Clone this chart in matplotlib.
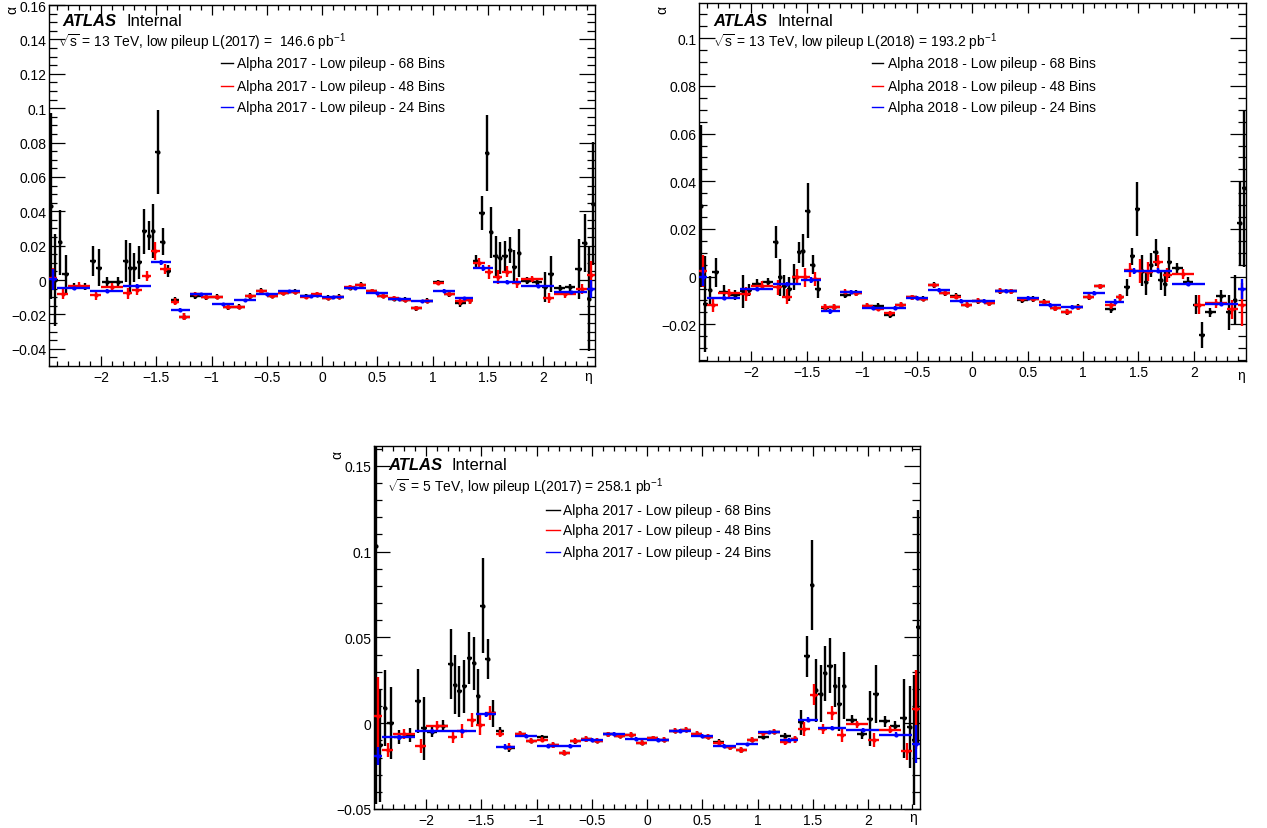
import numpy as np
import matplotlib
matplotlib.use("Agg")
import matplotlib.pyplot as plt
from matplotlib.ticker import MultipleLocator, FuncFormatter

plt.rcParams['font.family'] = ['Liberation Sans', 'DejaVu Sans']
plt.rcParams['mathtext.fontset'] = 'custom'
plt.rcParams['mathtext.rm'] = 'Liberation Sans'
plt.rcParams['mathtext.it'] = 'Liberation Sans:italic'
plt.rcParams['mathtext.bf'] = 'Liberation Sans:bold'

# ---------------- binning (eta bin edges) ----------------
edges_68 = [-2.47, -2.435, -2.395, -2.355, -2.29, -2.2, -2.1, -2.045, -1.99, -1.9, -1.8, -1.76, -1.72,
            -1.68, -1.63, -1.59, -1.55, -1.51, -1.47, -1.42, -1.37, -1.3, -1.2, -1.1, -1.0, -0.9, -0.8,
            -0.7, -0.6, -0.5, -0.4, -0.3, -0.2, -0.1, 0.0, 0.1, 0.2, 0.3, 0.4, 0.5, 0.6, 0.7, 0.8, 0.9,
            1.0, 1.1, 1.2, 1.3, 1.37, 1.42, 1.47, 1.51, 1.55, 1.59, 1.63, 1.68, 1.72, 1.76, 1.8, 1.9,
            1.99, 2.045, 2.1, 2.2, 2.29, 2.355, 2.395, 2.435, 2.47]
edges_48 = [-2.47, -2.4, -2.3, -2.1, -2.0, -1.8, -1.72, -1.63, -1.55, -1.47, -1.37, -1.3, -1.2, -1.1,
            -1.0, -0.9, -0.8, -0.7, -0.6, -0.5, -0.4, -0.3, -0.2, -0.1, 0.0, 0.1, 0.2, 0.3, 0.4, 0.5,
            0.6, 0.7, 0.8, 0.9, 1.0, 1.1, 1.2, 1.3, 1.37, 1.47, 1.55, 1.63, 1.72, 1.8, 2.0, 2.1, 2.3,
            2.4, 2.47]
edges_24 = [-2.47, -2.4, -2.1, -1.8, -1.55, -1.37, -1.2, -1.0, -0.8, -0.6, -0.4, -0.2, 0.0, 0.2, 0.4,
            0.6, 0.8, 1.0, 1.2, 1.37, 1.55, 1.8, 2.1, 2.4, 2.47]

# ---------------- panel A : 13 TeV, 2017 ----------------
a_68 = [0.043, 0.000, 0.0219, 0.0035, -0.0039, -0.0039, 0.0113, 0.0072, -0.0014, -0.0010,
        0.0111, 0.0072, 0.0072, 0.0103, 0.0285, 0.0258, 0.0285, 0.0744, 0.0223, 0.0054,
        -0.0117, -0.0214,
        -0.0093, -0.0099, -0.0097, -0.0157, -0.0155, -0.0093, -0.0062, -0.0091, -0.0074, -0.0068, -0.0095, -0.0085,
        -0.0103, -0.0097, -0.0045, -0.0027, -0.0066, -0.0091, -0.0109, -0.0115, -0.0165, -0.0120, -0.0014, -0.0082,
        -0.0134, -0.0117,
        0.0109, 0.039, 0.0738, 0.0278, 0.0142, 0.0128, 0.0142, 0.0177, 0.0078, 0.0157,
        -0.0004, -0.0014, -0.0043, 0.0035, -0.0049, -0.0043, 0.0064, 0.0216, -0.011, 0.0445]
a_68_err = [0.054, 0.0265, 0.019, 0.011, 0.002, 0.002, 0.0087, 0.0107, 0.003, 0.003,
            0.0123, 0.0146, 0.0085, 0.0097, 0.0131, 0.0085, 0.0155, 0.0245, 0.0078, 0.0034,
            0.002, 0.002,
            0.0015, 0.0015, 0.0015, 0.0015, 0.0015, 0.0015, 0.0015, 0.0015, 0.0015, 0.0015, 0.0015, 0.0015,
            0.0015, 0.0015, 0.0015, 0.0015, 0.0015, 0.0015, 0.0015, 0.0015, 0.0015, 0.0015, 0.0015, 0.0015,
            0.002, 0.002,
            0.0035, 0.0097, 0.022, 0.0148, 0.0117, 0.0092, 0.0087, 0.0075, 0.0097, 0.014,
            0.002, 0.002, 0.0087, 0.0107, 0.002, 0.002, 0.0175, 0.017, 0.030, 0.036]
a_48 = [0.001, -0.0082, -0.0033, -0.0087, -0.0039, -0.0078, -0.0058, 0.0025, 0.0169, 0.0064,
        -0.0126, -0.0214,
        -0.0083, -0.0101, -0.0097, -0.0159, -0.0155, -0.0091, -0.0062, -0.0093, -0.0074, -0.0068, -0.0097, -0.0083,
        -0.0105, -0.0097, -0.0043, -0.0027, -0.0066, -0.0091, -0.0107, -0.0115, -0.0165, -0.0120, -0.0019, -0.0082,
        -0.0124, -0.0117,
        0.0099, 0.0045, 0.0019, 0.0049, -0.0019, 0.0006, -0.0105, -0.0082, -0.0052, 0.0031]
a_48_err = [0.006, 0.003, 0.002, 0.003, 0.002, 0.003, 0.003, 0.003, 0.005, 0.003,
            0.002, 0.002,
            0.0012, 0.0012, 0.0012, 0.0012, 0.0012, 0.0012, 0.0012, 0.0012, 0.0012, 0.0012, 0.0012, 0.0012,
            0.0012, 0.0012, 0.0012, 0.0012, 0.0012, 0.0012, 0.0012, 0.0012, 0.0012, 0.0012, 0.0012, 0.0012,
            0.002, 0.002,
            0.003, 0.004, 0.004, 0.003, 0.003, 0.002, 0.003, 0.002, 0.003, 0.008]
a_24 = [0.0004, -0.0049, -0.0062, -0.0033, 0.0103, -0.0175, -0.0083, -0.0142, -0.0117, -0.0082, -0.0064, -0.0093,
        -0.0101, -0.0049, -0.0076, -0.0111, -0.0124, -0.0062, -0.0107, 0.0070, -0.0010, -0.0033, -0.0072, -0.0052]
a_24_err = [0.006, 0.001, 0.001, 0.001, 0.0015, 0.001, 0.0008, 0.0008, 0.0008, 0.0008, 0.0008, 0.0008,
            0.0008, 0.0008, 0.0008, 0.0008, 0.0008, 0.0008, 0.001, 0.0015, 0.001, 0.001, 0.001, 0.005]

# ---------------- panel B : 13 TeV, 2018 ----------------
b_68 = [0.0295, -0.0115, -0.0056, 0.0018, -0.0066, -0.0078, -0.0062, -0.0056, -0.0031, -0.0024,
        0.0144, -0.0003, -0.0041, -0.0052, 0.0, 0.0102, 0.0109, 0.0277, 0.0049, -0.0052,
        -0.0131, -0.0129,
        -0.0078, -0.0068, -0.0124, -0.0124, -0.0160, -0.0117, -0.0087, -0.0092, -0.0035, -0.0069, -0.0082, -0.0117,
        -0.0101, -0.0110, -0.0059, -0.0062, -0.0097, -0.0094, -0.0106, -0.0133, -0.0147, -0.0127, -0.0084, -0.0041,
        -0.0137, -0.0087,
        -0.0045, 0.0085, 0.0284, 0.0025, -0.0024, 0.0049, 0.0102, -0.0014, -0.0031, 0.006,
        0.0036, -0.0021, -0.0117, -0.0245, -0.015, -0.008, -0.015, -0.0098, 0.0225, 0.037]
b_68_err = [0.034, 0.020, 0.006, 0.006, 0.003, 0.002, 0.007, 0.0027, 0.002, 0.002,
            0.0067, 0.0077, 0.0047, 0.0052, 0.0055, 0.0045, 0.0068, 0.0114, 0.004, 0.0038,
            0.0015, 0.0015,
            0.0012, 0.0012, 0.0012, 0.0012, 0.0012, 0.0012, 0.0012, 0.0012, 0.0012, 0.0012, 0.0012, 0.0012,
            0.0012, 0.0012, 0.0012, 0.0012, 0.0012, 0.0012, 0.0012, 0.0012, 0.0012, 0.0012, 0.0012, 0.0012,
            0.0015, 0.0015,
            0.0035, 0.0035, 0.0113, 0.0064, 0.0052, 0.0052, 0.0056, 0.0042, 0.0052, 0.0064,
            0.002, 0.002, 0.0038, 0.0056, 0.002, 0.0025, 0.0073, 0.0105, 0.0175, 0.033]
b_48 = [0.0025, -0.0117, -0.007, -0.0073, -0.0038, -0.0045, -0.0084, 0.0, -0.0003, -0.001,
        -0.0129, -0.0129,
        -0.0063, -0.007, -0.0122, -0.0136, -0.0154, -0.0117, -0.0087, -0.0094, -0.0035, -0.0069, -0.0084, -0.0117,
        -0.0101, -0.0112, -0.0059, -0.0062, -0.0094, -0.0094, -0.0108, -0.0133, -0.0147, -0.0129, -0.0084, -0.0041,
        -0.0119, -0.0087,
        0.0028, 0.0025, 0.0021, 0.006, 0.0007, 0.0011, -0.0117, -0.0112, -0.0136, -0.0117]
b_48_err = [0.0067, 0.003, 0.002, 0.003, 0.002, 0.003, 0.003, 0.003, 0.004, 0.003,
            0.0015, 0.0015,
            0.001, 0.001, 0.001, 0.001, 0.001, 0.001, 0.001, 0.001, 0.001, 0.001, 0.001, 0.001,
            0.001, 0.001, 0.001, 0.001, 0.001, 0.001, 0.001, 0.001, 0.001, 0.001, 0.001, 0.001,
            0.0015, 0.0015,
            0.003, 0.005, 0.004, 0.003, 0.003, 0.002, 0.004, 0.002, 0.004, 0.009]
b_24 = [0.0, -0.009, -0.0052, -0.0031, -0.0014, -0.0145, -0.0063, -0.0133, -0.0131, -0.0091, -0.0056, -0.0101,
        -0.0103, -0.0059, -0.0091, -0.0117, -0.0129, -0.0069, -0.0105, 0.0025, 0.0025, -0.0031, -0.0115, -0.0052]
b_24_err = [0.004, 0.001, 0.001, 0.001, 0.0012, 0.001, 0.0008, 0.0008, 0.0008, 0.0008, 0.0008, 0.0008,
            0.0008, 0.0008, 0.0008, 0.0008, 0.0008, 0.0008, 0.001, 0.0012, 0.001, 0.001, 0.001, 0.004]

# ---------------- panel C : 5 TeV, 2017 ----------------
c_68 = [0.103, -0.013, 0.0088, 0.0, -0.0082, -0.0068, 0.0127, -0.0029, -0.0053, -0.0014,
        0.0345, 0.0224, 0.0185, 0.0214, 0.038, 0.035, 0.0156, 0.0685, 0.0374, 0.0058,
        -0.0043, -0.0146,
        -0.0062, -0.0101, -0.0082, -0.0127, -0.0171, -0.0105, -0.0092, -0.0101, -0.0064, -0.0074, -0.0068, -0.0113,
        -0.0088, -0.0097, -0.0043, -0.0039, -0.0062, -0.0078, -0.0108, -0.0140, -0.0156, -0.0097, -0.0078, -0.0049,
        -0.0076, -0.0093,
        0.0004, 0.039, 0.0804, 0.0191, 0.0171, 0.0292, 0.0335, 0.0218, 0.0113, 0.0218,
        0.0019, -0.0064, 0.0025, 0.0169, 0.001, -0.0016, 0.0029, -0.0023, -0.0098, 0.0559]
c_68_err = [0.15, 0.033, 0.022, 0.021, 0.004, 0.004, 0.0187, 0.0183, 0.003, 0.003,
            0.0204, 0.0172, 0.015, 0.0154, 0.0153, 0.0154, 0.016, 0.0277, 0.0117, 0.0078,
            0.002, 0.002,
            0.0015, 0.0015, 0.0015, 0.0015, 0.0015, 0.0015, 0.0015, 0.0015, 0.0015, 0.0015, 0.0015, 0.0015,
            0.0015, 0.0015, 0.0015, 0.0015, 0.0015, 0.0015, 0.0015, 0.0015, 0.0015, 0.0015, 0.0015, 0.0015,
            0.002, 0.002,
            0.0075, 0.0119, 0.0263, 0.0182, 0.0166, 0.016, 0.016, 0.0125, 0.0158, 0.0195,
            0.003, 0.003, 0.016, 0.017, 0.003, 0.003, 0.023, 0.024, 0.038, 0.068]
c_48 = [0.0039, -0.0156, -0.0062, -0.0132, -0.0019, -0.0078, -0.0045, 0.0019, -0.001, 0.0058,
        -0.0062, -0.0136,
        -0.0062, -0.0101, -0.0097, -0.0127, -0.0171, -0.0103, -0.0092, -0.0101, -0.0064, -0.0074, -0.0068, -0.0113,
        -0.0088, -0.0097, -0.0043, -0.0039, -0.0062, -0.0078, -0.0113, -0.014, -0.0156, -0.0097, -0.0058, -0.0049,
        -0.0107, -0.0093,
        -0.0035, 0.0166, -0.0035, 0.0058, -0.0068, -0.0006, -0.0097, -0.0039, -0.0165, 0.0082]
c_48_err = [0.023, 0.004, 0.003, 0.004, 0.003, 0.004, 0.004, 0.004, 0.006, 0.004,
            0.002, 0.002,
            0.0015, 0.0015, 0.0015, 0.0015, 0.0015, 0.0015, 0.0015, 0.0015, 0.0015, 0.0015, 0.0015, 0.0015,
            0.0015, 0.0015, 0.0015, 0.0015, 0.0015, 0.0015, 0.0015, 0.0015, 0.0015, 0.0015, 0.0015, 0.0015,
            0.002, 0.002,
            0.004, 0.006, 0.003, 0.004, 0.004, 0.002, 0.004, 0.002, 0.005, 0.023]
c_24 = [-0.0191, -0.0082, -0.0045, -0.0045, 0.0053, -0.0136, -0.0074, -0.0132, -0.0132, -0.0097, -0.0064, -0.0092,
        -0.0097, -0.0045, -0.0072, -0.0132, -0.0123, -0.0053, -0.0097, 0.0019, -0.0029, -0.0039, -0.0068, -0.0123]
c_24_err = [0.0055, 0.0015, 0.0012, 0.0012, 0.0015, 0.0012, 0.001, 0.001, 0.001, 0.001, 0.001, 0.001,
            0.001, 0.001, 0.001, 0.001, 0.001, 0.001, 0.0012, 0.0015, 0.0012, 0.0012, 0.0015, 0.011]

# ---------------- text ----------------
legend_a = ["Alpha 2017 - Low pileup - 68 Bins", "Alpha 2017 - Low pileup - 48 Bins", "Alpha 2017 - Low pileup - 24 Bins"]
legend_b = ["Alpha 2018 - Low pileup - 68 Bins", "Alpha 2018 - Low pileup - 48 Bins", "Alpha 2018 - Low pileup - 24 Bins"]
legend_c = legend_a
lumi_a = r"$\sqrt{\mathrm{s}}$ = 13 TeV, low pileup L(2017) =  146.6 pb$^{-1}$"
lumi_b = r"$\sqrt{\mathrm{s}}$ = 13 TeV, low pileup L(2018) = 193.2 pb$^{-1}$"
lumi_c = r"$\sqrt{\mathrm{s}}$ = 5 TeV, low pileup L(2017) = 258.1 pb$^{-1}$"

colors = ['#000000', '#ff0000', '#0000ff']

W, H = 1267, 829
fig = plt.figure(figsize=(W / 100, H / 100), dpi=100)


def px_rect(x0, y0, x1, y1):
    return [x0 / W, 1 - y1 / H, (x1 - x0) / W, (y1 - y0) / H]


def fmt(v, pos):
    if abs(v) < 1e-9:
        return "0"
    return ("%g" % round(v, 6)).replace("-", "\u2212")


def panel(rect, series, ylim, ymaj, ymin, lumi, legend, pos):
    ax = fig.add_axes(rect)
    for z, ((edges, vals, errs), col) in enumerate(zip(series, colors)):
        e = np.asarray(edges)
        xc = 0.5 * (e[:-1] + e[1:])
        xw = 0.5 * (e[1:] - e[:-1])
        ax.errorbar(xc, vals, yerr=errs, xerr=xw, fmt='o', ms=3.0, mew=0, color=col,
                    ecolor=col, elinewidth=1.7, capsize=0, zorder=2 + z)
    ax.set_xlim(-2.47, 2.47)
    ax.set_ylim(*ylim)
    ax.xaxis.set_major_locator(MultipleLocator(0.5))
    ax.xaxis.set_minor_locator(MultipleLocator(0.1))
    ax.yaxis.set_major_locator(MultipleLocator(ymaj))
    ax.yaxis.set_minor_locator(MultipleLocator(ymin))
    ax.xaxis.set_major_formatter(FuncFormatter(fmt))
    ax.yaxis.set_major_formatter(FuncFormatter(fmt))
    ax.tick_params(which='both', direction='in', top=True, right=True, labelsize=10, width=0.9)
    ax.tick_params(axis='x', which='major', length=7.2, pad=3)
    ax.tick_params(axis='x', which='minor', length=3.6)
    ax.tick_params(axis='y', which='major', length=11.5, pad=2)
    ax.tick_params(axis='y', which='minor', length=5.8)
    for s in ax.spines.values():
        s.set_linewidth(1.0)
    atl_x, int_x, atl_y, lum_x, lum_y, lx0, lx1, ltx, lys = pos
    ax.text(atl_x, atl_y, "ATLAS", transform=ax.transAxes, fontsize=12, fontweight='bold',
            fontstyle='italic', va='baseline', ha='left')
    ax.text(int_x, atl_y, "Internal", transform=ax.transAxes, fontsize=12, va='baseline', ha='left')
    ax.text(lum_x, lum_y, lumi, transform=ax.transAxes, fontsize=10, va='baseline', ha='left')
    for ly, lab, col in zip(lys, legend, colors):
        ax.plot([lx0, lx1], [ly, ly], transform=ax.transAxes, color=col, lw=1.0, clip_on=False)
        ax.text(ltx, ly, lab, transform=ax.transAxes, fontsize=10, va='center', ha='left')
    return ax


panel(px_rect(49.3, 6, 595.0, 367),
      [(edges_68, a_68, a_68_err), (edges_48, a_48, a_48_err), (edges_24, a_24, a_24_err)],
      (-0.05, 0.16), 0.02, 0.005, lumi_a, legend_a,
      (0.0246, 0.1418, 0.9446, 0.0165, 0.8845, 0.3146, 0.3366, 0.3434, [0.8393, 0.7756, 0.7175]))
panel(px_rect(699.3, 4, 1245.7, 362),
      [(edges_68, b_68, b_68_err), (edges_48, b_48, b_48_err), (edges_24, b_24, b_24_err)],
      (-0.0354, 0.1148), 0.02, 0.005, lumi_b, legend_b,
      (0.0256, 0.1428, 0.9385, 0.0256, 0.878, 0.3155, 0.3356, 0.3448, [0.8324, 0.767, 0.7087]))
panel(px_rect(374.3, 447.3, 920.0, 810),
      [(edges_68, c_68, c_68_err), (edges_48, c_48, c_48_err), (edges_24, c_24, c_24_err)],
      (-0.05, 0.1613), 0.05, 0.01, lumi_c, legend_c,
      (0.0257, 0.1418, 0.9374, 0.0227, 0.876, 0.315, 0.341, 0.3453, [0.8252, 0.770, 0.7077]))

for (x, y) in [(12, 10), (662, 10), (337, 455)]:
    fig.text(x / W, 1 - y / H, "\u03b1", rotation=90, fontsize=10, ha='center', va='center')
for (x, y) in [(588, 377), (1241, 376), (913, 818)]:
    fig.text(x / W, 1 - y / H, "\u03b7", fontsize=10, ha='center', va='center')

fig.savefig("out.png", dpi=100)
